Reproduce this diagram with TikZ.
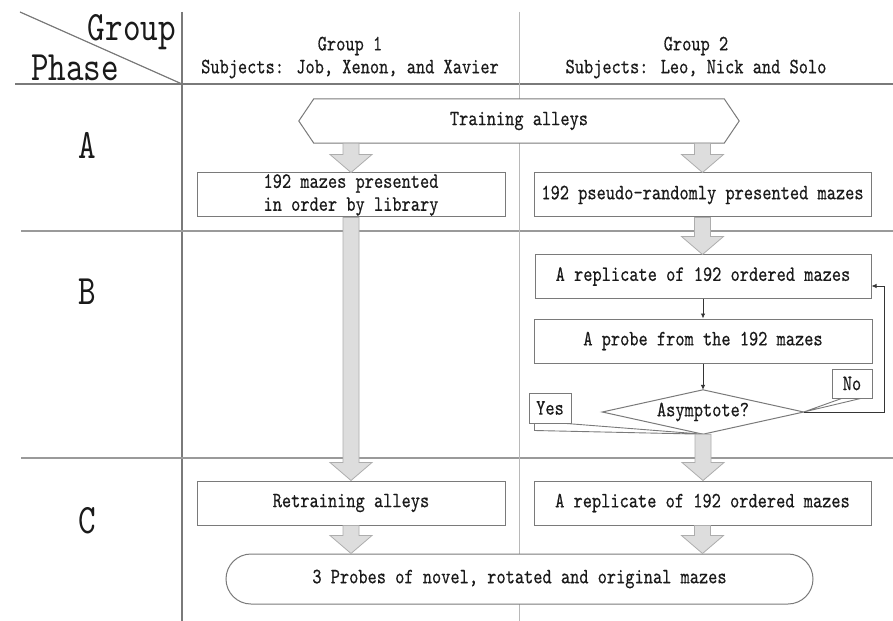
\documentclass[tikz,border=0pt]{standalone}
\usepackage{fontspec}
\newfontfamily\monof{lmmono10-regular}[Extension=.otf,FakeStretch=0.8,FakeBold=0.4]
\newfontfamily\monobig{lmmono10-regular}[Extension=.otf,FakeStretch=0.8]
\usetikzlibrary{calc,arrows.meta}
\pgfdeclarelayer{bg}\pgfdeclarelayer{mid}\pgfsetlayers{bg,mid,main}
\definecolor{txt}{HTML}{1A1A1A}
\definecolor{gridc}{HTML}{7A7A7A}
\definecolor{phasec}{HTML}{9A9A9A}
\definecolor{divc}{HTML}{B8B8B8}
\definecolor{boxc}{HTML}{7A7A7A}
\definecolor{arrfill}{HTML}{DDDDDD}
\definecolor{arrline}{HTML}{ADADAD}
\definecolor{thinc}{HTML}{353535}
\newcommand\bigarrow[2]{%
  \path[bigarr] let \p1=(#1), \p2=(#2) in
    (\x1-8bp,\y1) -- (\x1-8bp,\y2+18bp) -- (\x1-21bp,\y2+18bp) -- (\x1,\y2)
    -- (\x1+21bp,\y2+18bp) -- (\x1+8bp,\y2+18bp) -- (\x1+8bp,\y1) -- cycle;}
\begin{document}
\begin{tikzpicture}[x=1bp,y=-1bp,
  every node/.style={font=\monof\fontsize{22}{23}\selectfont, text=txt},
  big/.style={font=\monobig\fontsize{42}{44}\selectfont, inner sep=0},
  box/.style={draw=boxc, fill=white, line width=1bp, inner sep=0,
    minimum height=44bp, align=center},
  shapeline/.style={draw=boxc, fill=white, line width=1bp},
  bigarr/.style={fill=arrfill, draw=arrline, line width=0.8bp},
  thinarr/.style={draw=thinc, line width=0.8bp, -{Latex[length=5bp,width=4.5bp]}},
  gridline/.style={draw=gridc, line width=1.2bp},
  phaseline/.style={draw=phasec, line width=1.2bp},
  divline/.style={draw=divc, line width=1bp}]
\useasboundingbox (0,0) rectangle (893,621);

% grid
\begin{pgfonlayer}{bg}
  \fill[white] (0,0) rectangle (893,621);
  \draw[gridline] (20,12) -- (182,84);
  \draw[gridline] (182,12) -- (182,621);
  \draw[gridline] (15,84) -- (893,84);
  \draw[phaseline] (21,231) -- (893,231);
  \draw[phaseline] (21,458) -- (893,458);
  \draw[divline] (519,12) -- (519,621);
\end{pgfonlayer}

% headers
\node[big, anchor=base east] (grp) at (176,41) {Group};
\node[big, anchor=base west] (phs) at (31,81) {Phase};
\node[big] (pa) at (87,145) {A};
\node[big] (pb) at (87,292) {B};
\node[big] (pc) at (87,521) {C};
\node (g1) at (350,46) {Group 1};
\node (s1) at (350,69) {Subjects: Job, Xenon, and Xavier};
\node (g2) at (696,46) {Group 2};
\node (s2) at (696,69) {Subjects: Leo, Nick and Solo};

% nodes
\node[inner sep=0, minimum width=440bp, minimum height=44bp] (hex) at (519,121) {Training alleys};
\node[box, minimum width=308bp] (a1) at (351,195) {192 mazes presented\\in order by library};
\node[box, minimum width=337bp] (a2) at (702.5,195) {192 pseudo-randomly presented mazes};
\node[box, minimum width=336bp, minimum height=43bp] (b1) at (703,276.5) {A replicate of 192 ordered mazes};
\node[box, minimum width=338bp] (b2) at (703,341) {A probe from the 192 mazes};
\node[inner sep=0, minimum width=201bp, minimum height=44bp] (dia) at (703,412) {Asymptote?};
\node[box, minimum width=308bp] (c1) at (351,503) {Retraining alleys};
\node[box, minimum width=337bp] (c2) at (702.5,503) {A replicate of 192 ordered mazes};
\node[box, rounded corners=25bp, minimum width=587bp, minimum height=50bp] (term) at (519.5,579) {3 Probes of novel, rotated and original mazes};
\node[box, minimum width=42bp, minimum height=30bp] (yes) at (550,408) {Yes};
\node[box, minimum width=40bp, minimum height=29bp] (no) at (852,383.5) {No};

\begin{pgfonlayer}{mid}
  \draw[shapeline] (hex.west) -- ($(hex.north west)+(15,0)$) -- ($(hex.north east)+(-15,0)$)
    -- (hex.east) -- ($(hex.south east)+(-15,0)$) -- ($(hex.south west)+(15,0)$) -- cycle;
  \draw[shapeline] (dia.north) -- (dia.east) -- (dia.south) -- (dia.west) -- cycle;
  \draw[shapeline, line width=0.9bp] ($(yes.south west)+(6,0)$) -- ($(yes.south west)+(6,7)$)
    -- (dia.south) -- ($(yes.south east)+(-5,0)$) -- cycle;
  \draw[shapeline, line width=0.9bp] ($(no.south west)+(10,0)$) -- (dia.east)
    -- ($(no.south east)+(-12,0)$) -- cycle;
\end{pgfonlayer}

% big arrows
\bigarrow{a1.north |- hex.south}{a1.north}
\bigarrow{a2.north |- hex.south}{a2.north}
\bigarrow{a1.south}{c1.north}
\bigarrow{a2.south}{b1.north}
\bigarrow{dia.south}{c2.north}
\bigarrow{c1.south}{c1.south |- term.north}
\bigarrow{c2.south}{c2.south |- term.north}

% thin arrows
\coordinate (fb) at (884,286);
\draw[thinarr] (b1.south) -- (b2.north);
\draw[thinarr] (b2.south) -- (dia.north);
\draw[thinarr] (dia.east) -| (fb) -- (b1.east |- fb);
\end{tikzpicture}
\end{document}
